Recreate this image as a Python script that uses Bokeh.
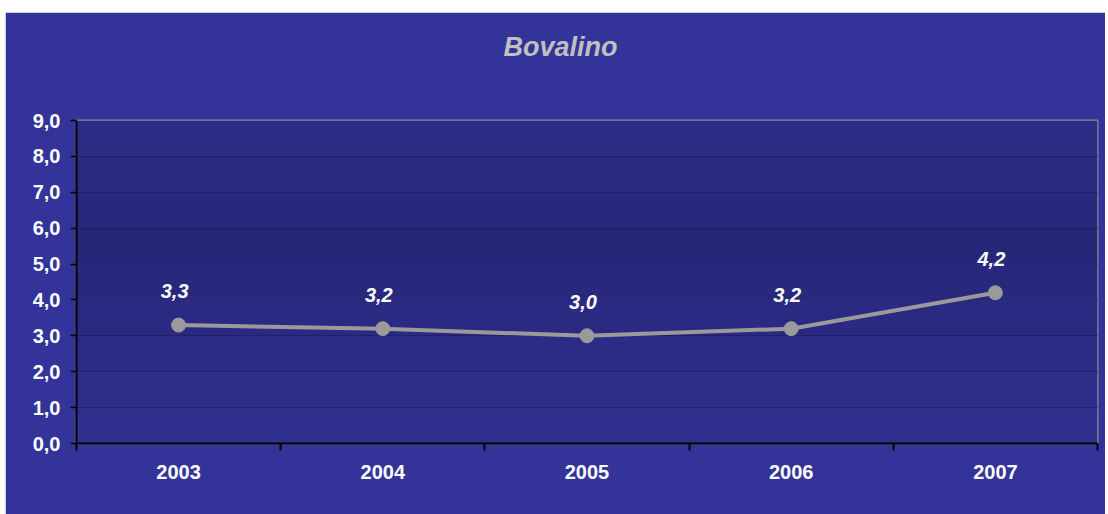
from bokeh.plotting import figure
from bokeh.models import FixedTicker, BoxAnnotation, Range1d, ColumnDataSource, Spacer, Title
from bokeh.layouts import column, row
from bokeh.core.properties import value
from bokeh.embed import file_html
from bokeh.resources import INLINE

title_text = "Bovalino"
years = ["2003", "2004", "2005", "2006", "2007"]
values = [3.3, 3.2, 3.0, 3.2, 4.2]
value_labels = ["3,3", "3,2", "3,0", "3,2", "4,2"]
y_ticks = [0, 1, 2, 3, 4, 5, 6, 7, 8, 9]
y_tick_labels = ["0,0", "1,0", "2,0", "3,0", "4,0", "5,0", "6,0", "7,0", "8,0", "9,0"]

xs = [i + 0.5 for i in range(len(years))]
src = ColumnDataSource(dict(x=xs, y=values, lab=value_labels))

BG = "#333399"
p = figure(width=1100, height=502, output_backend="svg", toolbar_location=None,
           x_range=Range1d(0, len(years)), y_range=Range1d(0, 9),
           min_border_left=71, min_border_right=8, min_border_top=108, min_border_bottom=71)
p.title.visible = False
# empty spacer title (closest to the plot area), then the real title above it
p.add_layout(Title(text=" ", text_font_size="1px", standoff=51, text_color=BG), "above")
p.add_layout(Title(text=title_text, align="left", offset=427, text_color="#c0c0c0",
                   text_font="Liberation Sans", text_font_style="bold italic",
                   text_font_size="27px", standoff=10), "above")
p.border_fill_color = BG
p.background_fill_color = "#2a2a80"
p.outline_line_color = "#8a8a8a"
p.outline_line_width = 2

# soft vertical gradient in the plot area
shades = ["#30308f", "#2e2e8b", "#2c2c86", "#2a2a82", "#28287d", "#27277a",
          "#28287c", "#2a2a80", "#2c2c85"]
for i, c in enumerate(shades):
    p.add_layout(BoxAnnotation(bottom=i, top=i + 1, fill_color=c, fill_alpha=1.0,
                               line_color=None, level="underlay"))

# axes
p.xaxis.ticker = FixedTicker(ticks=xs, minor_ticks=list(range(len(years) + 1)))
p.xaxis.major_label_overrides = {x: y for x, y in zip(xs, years)}
p.xaxis.major_tick_line_color = None
p.xaxis.minor_tick_line_color = "black"
p.xaxis.minor_tick_line_width = 2
p.xaxis.minor_tick_out = 7
p.xaxis.minor_tick_in = 0
p.xaxis.axis_line_color = "black"
p.xaxis.axis_line_width = 2
p.xaxis.major_label_text_color = "white"
p.xaxis.major_label_text_font = "Liberation Sans"
p.xaxis.major_label_text_font_style = "bold"
p.xaxis.major_label_text_font_size = "20px"
p.xaxis.major_label_standoff = 14

p.yaxis.ticker = FixedTicker(ticks=y_ticks, minor_ticks=[])
p.yaxis.major_label_overrides = {t: l for t, l in zip(y_ticks, y_tick_labels)}
p.yaxis.major_tick_line_color = "black"
p.yaxis.major_tick_line_width = 1.5
p.yaxis.major_tick_out = 6
p.yaxis.major_tick_in = 0
p.yaxis.axis_line_color = "black"
p.yaxis.axis_line_width = 2
p.yaxis.major_label_text_color = "white"
p.yaxis.major_label_text_font = "Liberation Sans"
p.yaxis.major_label_text_font_style = "bold"
p.yaxis.major_label_text_font_size = "20px"
p.yaxis.major_label_standoff = 10

p.xgrid.grid_line_color = None
p.ygrid.ticker = FixedTicker(ticks=y_ticks[1:-1])
p.ygrid.grid_line_color = "black"
p.ygrid.grid_line_width = 2

# series
p.line("x", "y", source=src, line_color="#9a9a9a", line_width=4)
p.scatter("x", "y", source=src, size=14, fill_color="#9a9a9a", line_color="#9a9a9a")
p.text("x", "y", text="lab", source=src, y_offset=-34, x_offset=-4,
       text_align="center", text_baseline="middle", text_color="white",
       text_font=value("Liberation Sans"), text_font_style="bold italic",
       text_font_size="20px")

layout = row(Spacer(width=5, height=10), column(Spacer(height=12, width=1100), p))
open("out.html", "w").write(file_html(layout, INLINE))
